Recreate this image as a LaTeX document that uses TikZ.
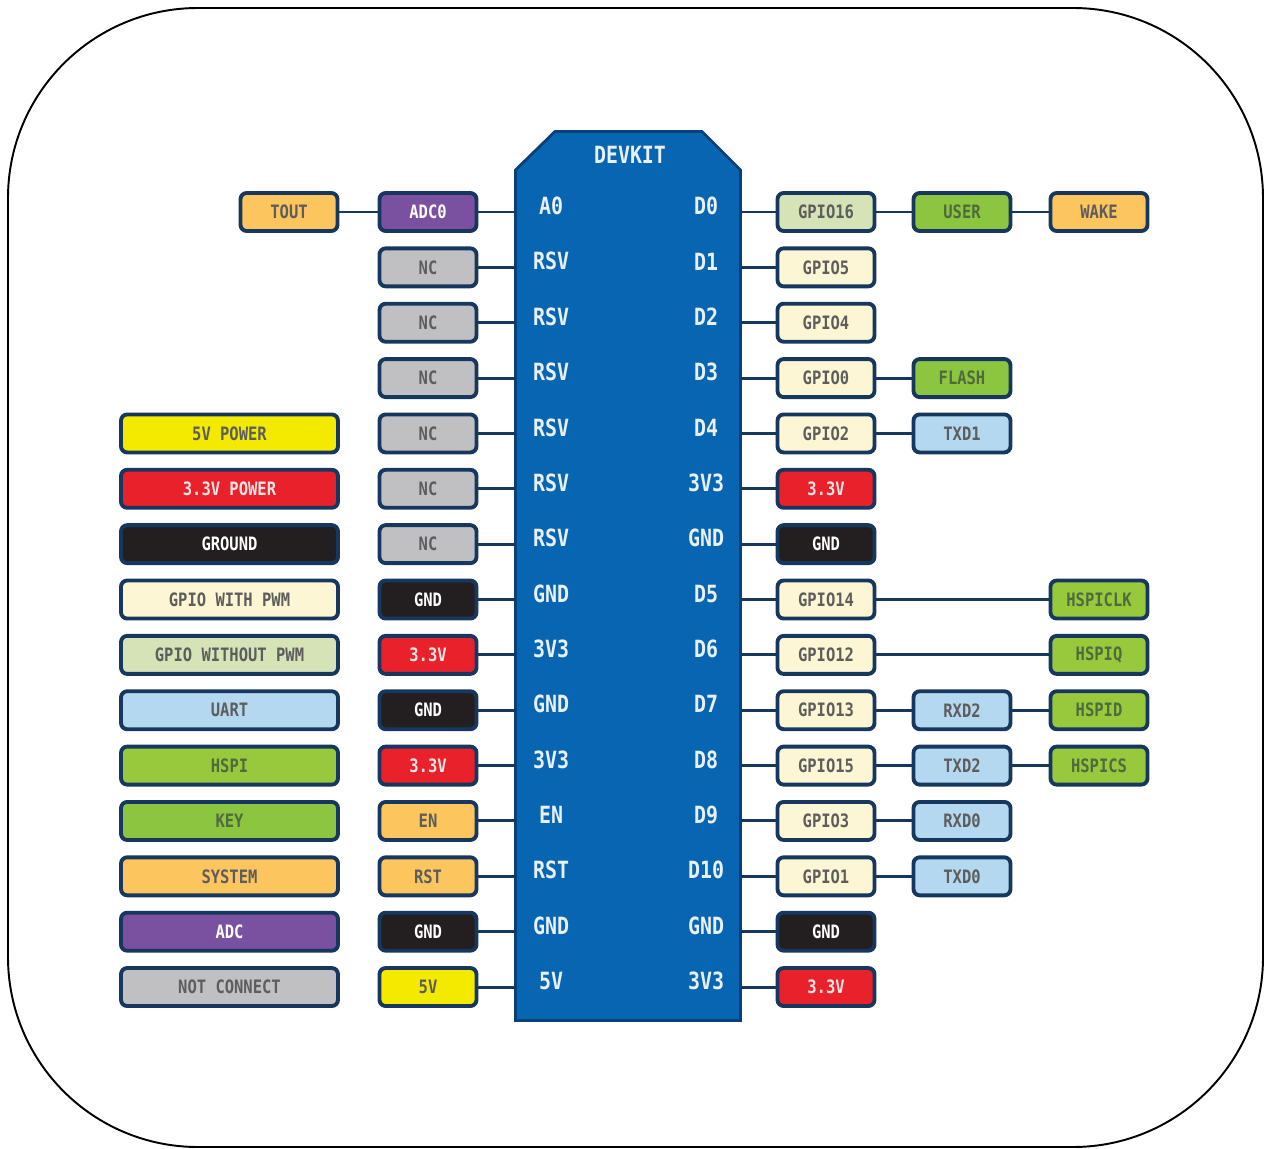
\documentclass[tikz,border=0pt]{standalone}
\usepackage{fontspec}
\setmonofont{DejaVu Sans Mono}[FakeStretch=0.84]

\definecolor{edge}{HTML}{17375E}
\definecolor{board}{HTML}{0865B2}
\definecolor{boardedge}{HTML}{0B3F78}
\definecolor{boardtxt}{HTML}{E8F0F8}
\definecolor{nc}{HTML}{C0C0C2}      \definecolor{nc-t}{HTML}{5D5D5D}
\definecolor{pwm}{HTML}{FCF6D4}     \definecolor{pwm-t}{HTML}{5D5D5D}
\definecolor{nopwm}{HTML}{D5E3B6}   \definecolor{nopwm-t}{HTML}{5D5D5D}
\definecolor{uart}{HTML}{B4D8F0}    \definecolor{uart-t}{HTML}{5D5D5D}
\definecolor{hspi}{HTML}{98C83C}    \definecolor{hspi-t}{HTML}{4F6B3E}
\definecolor{key}{HTML}{8CC540}     \definecolor{key-t}{HTML}{4F6B3E}
\definecolor{sys}{HTML}{FCC55E}     \definecolor{sys-t}{HTML}{5D5D5D}
\definecolor{adc}{HTML}{7A50A0}     \definecolor{adc-t}{HTML}{FFFFFF}
\definecolor{pw5}{HTML}{F4EA00}     \definecolor{pw5-t}{HTML}{5D5D5D}
\definecolor{pw3}{HTML}{E9212B}     \definecolor{pw3-t}{HTML}{F8E6E6}
\definecolor{gnd}{HTML}{231F20}     \definecolor{gnd-t}{HTML}{FFFFFF}

\begin{document}
\begin{tikzpicture}[x=0.02cm, y=-0.02cm,
	pinbox/.style={draw=edge, line width=2.2pt, rounded corners=3.5pt, fill=#1, text=#1-t,
		minimum width=1.94cm, minimum height=0.76cm, inner sep=0pt,
		font=\ttfamily\bfseries\fontsize{10.5}{12}\selectfont},
	legendbox/.style={pinbox=#1, minimum width=4.34cm},
	wire/.style={draw=edge, line width=1.7pt},
	boardlabel/.style={text=boardtxt, inner sep=0pt, font=\ttfamily\bfseries\fontsize{13.5}{15}\selectfont}]

	\useasboundingbox (0,0) rectangle (1265,1149);
	\draw[line width=1.1pt, rounded corners=3.8cm] (8,8) rectangle (1263,1147);

	% board
	\draw[fill=board, draw=boardedge, line width=1.6pt] (515.5,1020.5) -- (515.5,170) -- (555,131.5)
		-- (702,131.5) -- (740.5,170) -- (740.5,1020.5) -- cycle;
	\node[boardlabel] (devkit) at (630,155) {DEVKIT};

	% left header
	\foreach \i/\a/\t/\c in {1/A0/ADC0/adc, 2/RSV/NC/nc, 3/RSV/NC/nc, 4/RSV/NC/nc, 5/RSV/NC/nc,
			6/RSV/NC/nc, 7/RSV/NC/nc, 8/GND/GND/gnd, 9/3V3/3.3V/pw3, 10/GND/GND/gnd,
			11/3V3/3.3V/pw3, 12/EN/EN/sys, 13/RST/RST/sys, 14/GND/GND/gnd, 15/5V/5V/pw5} {
		\pgfmathsetmacro\y{212+(\i-1)*55.36}
		\node[boardlabel] (al-\i) at (551,\y-6) {\a};
		\coordinate (bl-\i) at (515.5,\y);
		\node[pinbox=\c] (pl-\i) at (428,\y) {\t};
		\draw[wire] (pl-\i) -- (bl-\i);
	}

	\node[pinbox=sys] (tout) at (289,212) {TOUT};
	\draw[wire] (tout) -- (pl-1);

	% right header
	\foreach \i/\a/\t/\c in {1/D0/GPIO16/nopwm, 2/D1/GPIO5/pwm, 3/D2/GPIO4/pwm, 4/D3/GPIO0/pwm,
			5/D4/GPIO2/pwm, 6/3V3/3.3V/pw3, 7/GND/GND/gnd, 8/D5/GPIO14/pwm, 9/D6/GPIO12/pwm,
			10/D7/GPIO13/pwm, 11/D8/GPIO15/pwm, 12/D9/GPIO3/pwm, 13/D10/GPIO1/pwm,
			14/GND/GND/gnd, 15/3V3/3.3V/pw3} {
		\pgfmathsetmacro\y{212+(\i-1)*55.36}
		\node[boardlabel] (ar-\i) at (706,\y-6) {\a};
		\coordinate (br-\i) at (740.5,\y);
		\node[pinbox=\c] (pr-\i) at (826,\y) {\t};
		\draw[wire] (br-\i) -- (pr-\i);
	}

	\foreach \i/\t/\c in {1/USER/key, 4/FLASH/key, 5/TXD1/uart, 10/RXD2/uart, 11/TXD2/uart,
			12/RXD0/uart, 13/TXD0/uart} {
		\pgfmathsetmacro\y{212+(\i-1)*55.36}
		\node[pinbox=\c] (pm-\i) at (962,\y) {\t};
		\draw[wire] (pr-\i) -- (pm-\i);
	}

	\foreach \i/\t/\c/\f in {1/WAKE/sys/pm, 8/HSPICLK/hspi/pr, 9/HSPIQ/hspi/pr,
			10/HSPID/hspi/pm, 11/HSPICS/hspi/pm} {
		\pgfmathsetmacro\y{212+(\i-1)*55.36}
		\node[pinbox=\c] (px-\i) at (1099,\y) {\t};
		\draw[wire] (\f-\i) -- (px-\i);
	}

	% legend
	\foreach \i/\t/\c in {5/5V POWER/pw5, 6/3.3V POWER/pw3, 7/GROUND/gnd, 8/GPIO WITH PWM/pwm,
			9/GPIO WITHOUT PWM/nopwm, 10/UART/uart, 11/HSPI/hspi, 12/KEY/key, 13/SYSTEM/sys,
			14/ADC/adc, 15/NOT CONNECT/nc} {
		\pgfmathsetmacro\y{212+(\i-1)*55.36}
		\node[legendbox=\c] (lg-\i) at (229.5,\y) {\t};
	}
\end{tikzpicture}
\end{document}
